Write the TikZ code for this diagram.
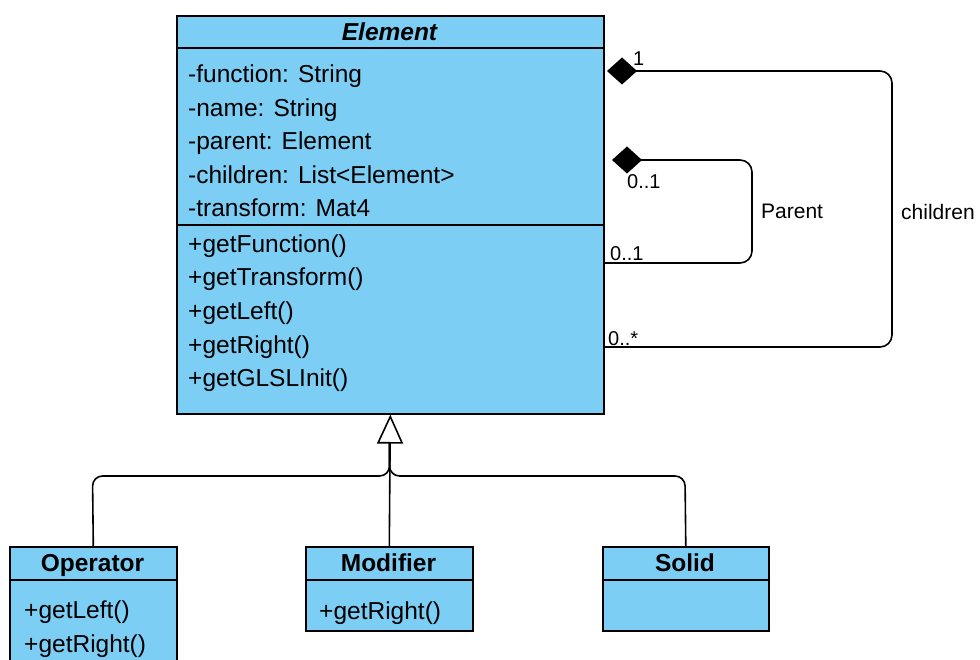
\documentclass[tikz,border=0pt]{standalone}
\usepackage{fontspec}
\setmainfont{Liberation Sans}
\usetikzlibrary{arrows.meta}
\definecolor{cls}{RGB}{124,206,244}
\begin{document}
\begin{tikzpicture}[x=1pt,y=-1pt,
  box/.style={draw, line width=1.6pt, fill=cls, inner sep=0pt, anchor=north west},
  sep/.style={line width=1.6pt},
  txt/.style={anchor=base west, inner sep=0pt, font=\fontsize{24.5}{28}\selectfont},
  ttl/.style={anchor=base, inner sep=0pt, font=\fontsize{24.5}{28}\selectfont\bfseries},
  lbl/.style={inner sep=0pt, font=\fontsize{20}{24}\selectfont},
  conn/.style={line width=1.6pt, rounded corners=12pt},
  comp/.style={conn, {Diamond[length=30pt,width=27pt]}-},
  gen/.style={line width=1.6pt, -{Triangle[open,fill=white,length=29pt,width=26pt]}}]
\useasboundingbox[fill=white] (0,0) rectangle (980,660);

% Element class
\node[box, minimum width=427pt, minimum height=398pt] (elem) at (176,15) {};
\draw[sep] (176,48) -- (603,48);
\draw[sep] (176,225) -- (603,225);
\node[ttl, font=\fontsize{24.5}{28}\selectfont\bfseries\itshape] (elemT) at (389.5,41) {Element};
\node[txt] (a1) at (188,83) {-function: String};
\node[txt] (a2) at (188,116.5) {-name: String};
\node[txt] (a3) at (188,150) {-parent: Element};
\node[txt] (a4) at (188,183.5) {-children: List<Element>};
\node[txt] (a5) at (188,217) {-transform: Mat4};
\node[txt] (m1) at (188,252.5) {+getFunction()};
\node[txt] (m2) at (188,286) {+getTransform()};
\node[txt] (m3) at (188,319.5) {+getLeft()};
\node[txt] (m4) at (188,353) {+getRight()};
\node[txt] (m5) at (188,386.5) {+getGLSLInit()};

% Operator
\node[box, minimum width=167pt, minimum height=120pt] (op) at (9,546) {};
\draw[sep] (9,580) -- (176,580);
\node[ttl] (opT) at (92.5,571) {Operator};
\node[txt] (op1) at (24,618) {+getLeft()};
\node[txt] (op2) at (24,652) {+getRight()};

% Modifier
\node[box, minimum width=167pt, minimum height=84pt] (mod) at (305,546) {};
\draw[sep] (305,580) -- (472,580);
\node[ttl] (modT) at (388.5,571) {Modifier};
\node[txt] (mod1) at (319,619) {+getRight()};

% Solid
\node[box, minimum width=166pt, minimum height=84pt] (sol) at (602,546) {};
\draw[sep] (602,580) -- (768,580);
\node[ttl] (solT) at (685,571) {Solid};

% Generalization
\coordinate (tb) at (389.5,443);
\draw[gen] (mod.north) -- (elem.south);
\draw[conn, rounded corners=10pt] (op.north) -- (92.5,476) -- (389.5,476) -- (tb);
\draw[conn, rounded corners=10pt] (sol.north) -- (685,476) -- (389.5,476) -- (tb);

% Composition: children
\coordinate (cs) at (607,71);
\coordinate (ce) at (603,347);
\draw[comp] (cs) -- (892,71) -- (892,347) -- (ce);
\node[lbl, anchor=west] (c1) at (633,59) {1};
\node[lbl, anchor=south west] (c2) at (608,346) {0..*};
\node[lbl, anchor=west, font=\fontsize{21}{24}\selectfont] (cL) at (901,212) {children};

% Composition: parent
\coordinate (ps) at (612,160);
\coordinate (pe) at (603,263);
\draw[comp] (ps) -- (752,160) -- (752,263) -- (pe);
\node[lbl, anchor=west] (p1) at (627,182) {0..1};
\node[lbl, anchor=south west] (p2) at (610,261) {0..1};
\node[lbl, anchor=west, font=\fontsize{21}{24}\selectfont] (pL) at (761,211) {Parent};
\end{tikzpicture}
\end{document}
